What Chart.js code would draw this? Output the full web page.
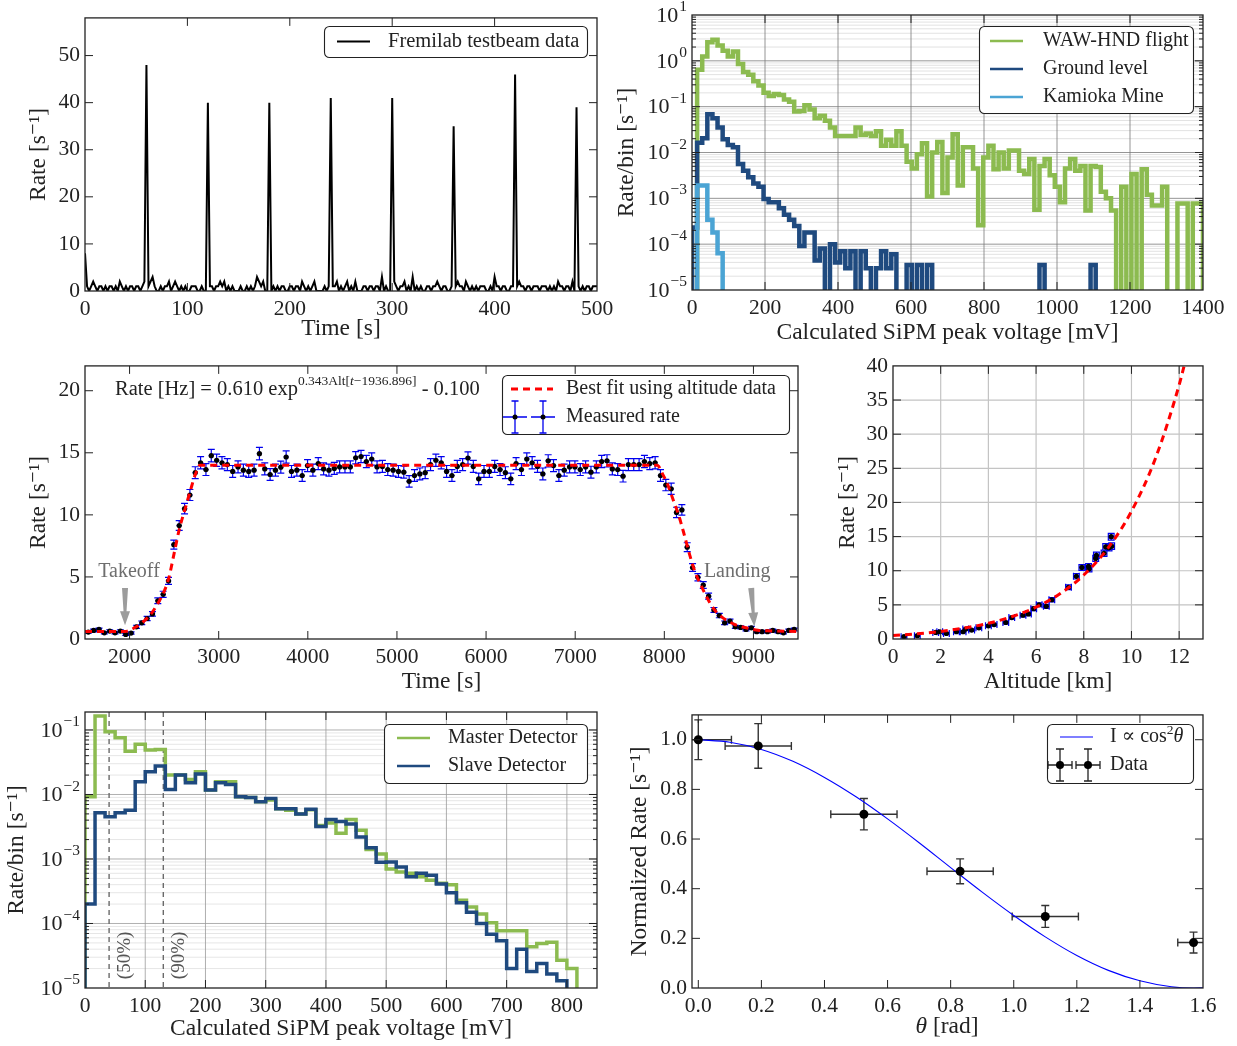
<!DOCTYPE html>
<html>
<head>
<meta charset="utf-8">
<script src="https://cdn.jsdelivr.net/npm/chart.js@4.4.0/dist/chart.umd.min.js"></script>
<style>
  html, body { margin: 0; padding: 0; background: #fff; }
  body { width: 1237px; height: 1046px; position: relative; overflow: hidden; }
  canvas { position: absolute; }
</style>
</head>
<body>
<script>
const FONT = "'Liberation Serif', 'DejaVu Serif', serif";
const INK = '#222';

// ---------- panel 1: Fermilab testbeam (2 s bins) ----------
const beamStep = 2;
const beamBackground = [
  8,1,0,1,2,1,0,1,1,0,1,0,1,1,0,1,0,2,1,0,1,0,1,1,0,
  1,1,0,1,2,0,1,2,3,1,0,0,1,0,1,1,2,0,1,2,1,0,1,0,1,
  0,0,1,1,1,0,0,1,0,0,1,1,1,0,1,1,2,1,2,0,1,0,1,0,0,
  0,1,0,0,1,0,1,0,1,3,2,1,2,0,0,1,0,1,0,1,0,1,1,0,0,
  1,1,0,1,1,0,2,1,0,1,0,1,2,0,0,0,0,1,0,1,0,1,1,2,0,
  1,0,1,2,0,1,0,2,0,0,0,1,1,0,1,1,0,1,1,0,3,0,1,0,0,
  0,2,1,0,1,1,2,0,1,0,3,0,1,0,1,0,0,1,1,0,1,1,2,1,0,
  1,1,0,0,1,0,1,2,1,1,0,2,1,0,1,0,1,0,1,1,1,0,0,1,0,
  3,1,1,0,1,1,0,0,1,1,0,1,2,1,1,0,1,1,0,1,1,1,0,1,1,
  1,0,1,0,1,0,2,1,1,0,1,1,0,2,0,0,1,0,1,0,1,1,0,1,1,
  1
];
const beamPeakTime = [60, 120, 180, 240, 300, 360, 420, 480];
const beamPeakRate = [48, 40, 40, 41, 41, 35, 46, 39];

// ---------- panel 2: SiPM spectra (14 mV bins) ----------
const spectrumBin = 14;
const wawRate = [
  0, 0.64, 1.25, 2.55, 2.87, 2.15, 1.65, 1.25, 1.6, 0.85, 0.57,
  0.5, 0.36, 0.29, 0.2, 0.17, 0.19, 0.18, 0.143, 0.128, 0.078,
  0.08, 0.108, 0.087, 0.056, 0.063, 0.049, 0.035, 0.023, 0.023, 0.023,
  0.023, 0.035, 0.024, 0.026, 0.023, 0.029, 0.014, 0.019, 0.014, 0.029,
  0.014, 0.0063, 0.0045, 0.0092, 0.016, 0.0011, 0.01, 0.017, 0.0013, 0.0078,
  0.025,
  0.0019, 0.013, 0.013, 0.0045, 0.00026, 0.0078, 0.014, 0.0043, 0.01, 0.0045,
  0.011, 0.011, 0.004, 0.0034, 0.0072, 0.00056, 0.0051, 0.0072, 0.0032, 0.0018,
  0.00082, 0.0045, 0.0072, 0.004, 0.0051, 0.00054, 0.0051, 0.0048, 0.0014, 0.001,
  0.00054, 0, 0.0018, 0, 0.0034, 0, 0.0043, 0.0012, 0.0007, 0.0007,
  0.0018, 0, 0, 0.00077, 0.00077, 0, 0.00077, 0.00077
];
const groundRate = [
  0.00023, 0.0164, 0.0205, 0.068, 0.056, 0.035, 0.0195, 0.0146, 0.013, 0.0056,
  0.004, 0.0029, 0.0021, 0.0018, 0.00097, 0.00082, 0.00082, 0.00061, 0.00044, 0.00034,
  0.00025, 0.000091, 0.00018, 0.00018, 0.000044, 0.00008, 0, 0.0001, 0.00004, 0.00007,
  0.00003, 0.00007, 0, 0.00007, 0.00003, 0, 0.00003, 0.00007, 0.00003, 0.00006,
  0, 0, 0.000035, 0, 0.000035, 0, 0.000035, 0, 0, 0,
  0, 0, 0, 0, 0, 0, 0, 0, 0, 0,
  0, 0, 0, 0, 0, 0, 0, 0, 0.000035, 0,
  0, 0, 0, 0, 0, 0, 0, 0, 0.000035
];
const kamiokaRate = [0, 0.0019, 0.0019, 0.00034, 0.00018, 0.000063];

// ---------- panel 3: rate during flight ----------
const flightT0 = 1537;
const flightStep = 60;
const flightRate = [
  0.56, 0.69, 0.77, 0.5, 0.64, 0.5, 0.64, 0.37, 0.48, 0.98,
  1.3, 1.65, 2.02, 3.08, 3.6, 4.68, 7.6, 9.14, 10.5, 11.6,
  13.4, 14.2, 13.65, 14.77, 14.4, 14.2, 14.05, 13.5, 13.86, 13.6,
  13.5, 13.6, 14.93, 13.7, 13.25, 13.6, 13.84, 14.66, 13.5, 13.6,
  13.17, 13.97, 13.6, 14.13, 13.7, 13.6, 13.74, 13.86, 13.86, 13.86,
  14.6, 14.7, 14.3, 14.5, 13.86, 13.9, 13.65, 13.6, 13.5, 13.44,
  12.7, 13.17, 13.3, 13.4, 14.05, 14.4,
  14.2, 13.5, 13.17, 13.9, 14.05, 14.58, 13.9, 12.9, 13.5, 13.5,
  13.9, 13.65, 13.4, 12.9, 14.13, 13.65, 14.5, 14.2, 13.9, 13.3,
  14.35, 13.97, 13.17, 13.6, 13.86, 13.86, 13.65, 13.86, 13.44, 13.86,
  14.3, 14.35, 13.7, 13.65, 13.12, 14.05, 14.05, 14.05, 14.3, 14.13,
  14.2, 13.17, 12.4, 12.1, 10.2, 10.4, 7.4, 5.76, 4.97, 4.35,
  3.45, 2.34, 1.89, 1.3, 1.44, 0.98, 0.93, 0.77, 0.9, 0.59,
  0.59, 0.59, 0.69, 0.59, 0.5, 0.69, 0.77
];
const flightTimeErr = 30;
const poissonScale = 0.13; // error bar = scale * sqrt(rate)
const fitTime = [1500, 1950, 2000, 2080, 2140, 2200, 2260, 2320, 2380, 2440,
  2500, 2560, 2620, 2680, 2740, 2790, 7920, 7980, 8040, 8100,
  8160, 8220, 8280, 8340, 8400, 8460, 8520, 8580, 8640, 8700,
  8780, 8860, 8950, 9050, 9200, 9500];
const fitRate = [0.6, 0.6, 0.7, 1.0, 1.3, 1.7, 2.2, 2.9, 3.7, 4.9,
  6.9, 8.9, 10.4, 11.9, 13.3, 14.0, 14.0, 13.3, 12.4, 11.2,
  10.0, 8.5, 6.9, 5.5, 4.5, 3.6, 2.8, 2.2, 1.8, 1.5,
  1.2, 1.0, 0.85, 0.7, 0.65, 0.6];

// ---------- panel 4: rate vs altitude ----------
const altKm = [0.46, 1.02, 1.79, 1.96, 2.24, 2.66, 2.94, 3.05, 3.3, 3.6, 4.0, 4.24, 4.73, 4.98, 5.45, 5.68,
  5.9, 6.13, 6.43, 6.66, 7.36, 7.69, 7.92, 8.2, 8.22, 8.5, 8.53, 8.85, 8.92, 9.06, 9.15, 9.17];
const altRate = [0.34, 0.48, 0.97, 1.06, 0.82, 1.06, 1.06, 1.45, 1.3, 1.64, 1.93, 2.12, 2.42, 3.14, 3.48, 3.67,
  4.44, 5.02, 4.78, 5.75, 7.58, 9.18, 10.48, 10.63, 10.24, 11.8, 12.27, 12.56, 13.48, 13.38, 14.98, 13.6];
const altErr = 0.12;
const altFitKm = [0, 1, 2, 3, 4, 5, 6, 7, 8, 9, 10, 11, 12, 12.2];
const altFitRate = [0.51, 0.76, 1.11, 1.61, 2.30, 3.29, 4.67, 6.62, 9.37, 13.25, 18.7, 26.4, 37.2, 39.9];

// ---------- panel 5: master / slave spectra ----------
const coinBin = 50 / 3;
const masterRate = [0.0092, 0.165, 0.094, 0.076, 0.047, 0.06, 0.049, 0.05, 0.02, 0.02,
  0.017, 0.0225, 0.0117, 0.0158, 0.0158, 0.0092, 0.009, 0.0077, 0.0082, 0.006,
  0.0057, 0.005, 0.0058, 0.0033, 0.0036, 0.0025, 0.0041, 0.0028, 0.0014, 0.0012,
  0.0007, 0.00063, 0.0006, 0.00053, 0.00047, 0.00042, 0.0004, 0.00023, 0.00018, 0.00014,
  0.000103, 0.000077, 0.000077, 0.000077, 0.0000435, 0.000049, 0.000051, 0.000027, 0.00002];
const slaveRate = [0.0002, 0.0052, 0.0045, 0.0052, 0.0057, 0.0158, 0.0225, 0.0276, 0.012, 0.02,
  0.0152, 0.0207, 0.0117, 0.0152, 0.0143, 0.0092, 0.009, 0.0077, 0.0087, 0.006,
  0.006, 0.005, 0.0059, 0.0032, 0.0041, 0.0038, 0.0035, 0.0022, 0.0015, 0.00089,
  0.0009, 0.00075, 0.00053, 0.0006, 0.00056, 0.00041, 0.0003, 0.00021, 0.00015, 0.0001,
  0.000068, 0.000054, 0.00002, 0.00004, 0.000018, 0.000024, 0.0000165, 0.000013];
const thresholdMv = [40, 130];
const thresholdLabel = ['(50%)', '(90%)'];

// ---------- panel 6: zenith angle ----------
const thetaRad = [0.0, 0.19, 0.525, 0.83, 1.1, 1.57];
const normRate = [1.0, 0.975, 0.70, 0.47, 0.288, 0.183];
const thetaErr = [0.105, 0.105, 0.105, 0.105, 0.105, 0.05];
const normRateErr = [0.08, 0.09, 0.063, 0.05, 0.044, 0.042];
const cosTheta = [0, 0.1, 0.2, 0.3, 0.4, 0.5, 0.6, 0.7, 0.8, 0.9, 1.0, 1.1, 1.2, 1.3, 1.4, 1.5, 1.5708, 1.6];
const cosRate = [1, 0.990, 0.961, 0.913, 0.848, 0.770, 0.681, 0.585, 0.485, 0.386, 0.292, 0.206, 0.131, 0.071, 0.029, 0.005, 0, 0.001];

// ---------- colours ----------
const GREEN = '#8cbb50';
const NAVY = '#1f4a7f';
const SKY = '#4ba4d4';

// ---------- helpers ----------
function steps(w, vals, floor) {
  const pts = [{x: 0, y: floor}];
  vals.forEach((v, i) => pts.push({x: i * w, y: v > 0 ? v : floor}));
  const last = vals[vals.length - 1];
  pts.push({x: vals.length * w, y: last > 0 ? last : floor});
  pts.push({x: vals.length * w, y: floor});
  return pts;
}

function linAxis(min, max, ticks, title, fmt) {
  return {
    type: 'linear', min: min, max: max,
    afterBuildTicks: s => { s.ticks = ticks.map(v => ({value: v})); },
    grid: {display: false, drawTicks: false},
    border: {display: false},
    ticks: {font: {family: FONT, size: 21.5}, color: INK, padding: 5, maxRotation: 0, autoSkip: false,
      callback: fmt || (v => String(v))},
    title: {display: !!title, text: title, font: {family: FONT, size: 23.5}, color: INK, padding: {top: 2, bottom: 2}}
  };
}

function logAxis(min, max, decades, title) {
  return {
    type: 'logarithmic', min: min, max: max,
    afterBuildTicks: s => { s.ticks = decades.map(e => ({value: Math.pow(10, e)})); },
    grid: {display: false, drawTicks: false},
    border: {display: false},
    ticks: {display: false},
    title: {display: true, text: title, font: {family: FONT, size: 23.5}, color: INK, padding: {top: 2, bottom: 2}}
  };
}

function minorLog(e0, e1, max) {
  const out = [];
  for (let e = e0; e <= e1; e++) for (let k = 2; k <= 9; k++) {
    const v = k * Math.pow(10, e);
    if (v < max) out.push(v);
  }
  return out;
}

function makePanel(box, m, cfg) {
  const c = document.createElement('canvas');
  const w = box[2] - box[0] + m[0] + m[2];
  const h = box[3] - box[1] + m[1] + m[3];
  c.width = w; c.height = h;
  c.style.left = (box[0] - m[0]) + 'px';
  c.style.top = (box[1] - m[1]) + 'px';
  c.style.width = w + 'px'; c.style.height = h + 'px';
  c._ox = box[0] - m[0]; c._oy = box[1] - m[1];
  document.body.appendChild(c);
  cfg.options.responsive = false;
  cfg.options.animation = false;
  cfg.options.events = [];
  cfg.options.layout = {padding: {left: 0, top: m[1], right: m[2], bottom: 0}};
  cfg.options.plugins = {legend: {display: false}, tooltip: {enabled: false}};
  cfg.options.scales.x.afterFit = s => { s.height = m[3]; };
  cfg.options.scales.y.afterFit = s => { s.width = m[0]; };
  return new Chart(c, cfg);
}

// page coords -> canvas coords
function P(ch, X, Y) { return [X - ch.canvas._ox, Y - ch.canvas._oy]; }

function drawGrid(ch, xs, ys, color, lw) {
  const {ctx, chartArea: a, scales: {x: sx, y: sy}} = ch;
  ctx.save(); ctx.strokeStyle = color; ctx.lineWidth = lw; ctx.beginPath();
  xs.forEach(v => { const p = sx.getPixelForValue(v); ctx.moveTo(p, a.top); ctx.lineTo(p, a.bottom); });
  ys.forEach(v => { const p = sy.getPixelForValue(v); ctx.moveTo(a.left, p); ctx.lineTo(a.right, p); });
  ctx.stroke(); ctx.restore();
}

function drawFrame(ch, f) {
  const {ctx, chartArea: a, scales: {x: sx, y: sy}} = ch;
  ctx.save(); ctx.strokeStyle = INK; ctx.lineWidth = 1; ctx.beginPath();
  const tx = (vals, len) => vals.forEach(v => {
    const p = sx.getPixelForValue(v);
    ctx.moveTo(p, a.bottom); ctx.lineTo(p, a.bottom - len);
    ctx.moveTo(p, a.top); ctx.lineTo(p, a.top + len);
  });
  const ty = (vals, len) => vals.forEach(v => {
    const p = sy.getPixelForValue(v);
    ctx.moveTo(a.left, p); ctx.lineTo(a.left + len, p);
    ctx.moveTo(a.right, p); ctx.lineTo(a.right - len, p);
  });
  tx(f.xMajor || [], 8); tx(f.xMinor || [], 4);
  ty(f.yMajor || [], 8); ty(f.yMinor || [], 4);
  ctx.stroke();
  ctx.lineWidth = 1.3;
  ctx.strokeRect(a.left, a.top, a.right - a.left, a.bottom - a.top);
  ctx.restore();
}

function drawLogLabels(ch, decades) {
  const {ctx, chartArea: a, scales: {y: sy}} = ch;
  ctx.save(); ctx.fillStyle = INK; ctx.textBaseline = 'middle'; ctx.textAlign = 'right';
  decades.forEach(e => {
    const y = sy.getPixelForValue(Math.pow(10, e));
    const sup = e < 0 ? '\u2212' + (-e) : String(e);
    ctx.font = '15.5px ' + FONT;
    const w = ctx.measureText(sup).width;
    const xr = a.left - 5;
    ctx.fillText(sup, xr, y - 8);
    ctx.font = '22px ' + FONT;
    ctx.fillText('10', xr - w - 1, y + 1);
  });
  ctx.restore();
}

function errBars(ch, xs, ys, xe, ye, color, lw, capY, capX) {
  const {ctx, chartArea: a, scales: {x: sx, y: sy}} = ch;
  ctx.save();
  ctx.beginPath(); ctx.rect(a.left, a.top, a.right - a.left, a.bottom - a.top); ctx.clip();
  ctx.strokeStyle = color; ctx.lineWidth = lw; ctx.beginPath();
  xs.forEach((x, i) => {
    const px = sx.getPixelForValue(x), py = sy.getPixelForValue(ys[i]);
    const l = sx.getPixelForValue(x - xe[i]), r = sx.getPixelForValue(x + xe[i]);
    ctx.moveTo(l, py); ctx.lineTo(r, py);
    if (capX) { ctx.moveTo(l, py - capX); ctx.lineTo(l, py + capX); ctx.moveTo(r, py - capX); ctx.lineTo(r, py + capX); }
    const t = sy.getPixelForValue(ys[i] + ye[i]), b = sy.getPixelForValue(ys[i] - ye[i]);
    ctx.moveTo(px, t); ctx.lineTo(px, b);
    ctx.moveTo(px - capY, t); ctx.lineTo(px + capY, t);
    ctx.moveTo(px - capY, b); ctx.lineTo(px + capY, b);
  });
  ctx.stroke(); ctx.restore();
}

function legendBox(ch, X, Y, w, h) {
  const [x, y] = P(ch, X, Y); const ctx = ch.ctx;
  ctx.save(); ctx.beginPath(); ctx.roundRect(x + 0.5, y + 0.5, w, h, 5);
  ctx.fillStyle = '#fff'; ctx.fill(); ctx.strokeStyle = INK; ctx.lineWidth = 1.1; ctx.stroke(); ctx.restore();
}
function legendLine(ch, X1, X2, Y, color, lw, dash) {
  const [x1, y] = P(ch, X1, Y); const [x2] = P(ch, X2, Y); const ctx = ch.ctx;
  ctx.save(); ctx.strokeStyle = color; ctx.lineWidth = lw; if (dash) ctx.setLineDash(dash);
  ctx.beginPath(); ctx.moveTo(x1, y); ctx.lineTo(x2, y); ctx.stroke(); ctx.restore();
}
function legendText(ch, X, Y, txt, size) {
  const [x, y] = P(ch, X, Y); const ctx = ch.ctx;
  ctx.save(); ctx.fillStyle = INK; ctx.font = (size || 20) + 'px ' + FONT;
  ctx.textBaseline = 'middle'; ctx.textAlign = 'left'; ctx.fillText(txt, x, y); ctx.restore();
  return x;
}
function legendCross(ch, X, Y, color, capY, capX, r) {
  const [x, y] = P(ch, X, Y); const ctx = ch.ctx;
  ctx.save(); ctx.strokeStyle = color; ctx.lineWidth = 1.3; ctx.beginPath();
  ctx.moveTo(x - 12, y); ctx.lineTo(x + 12, y);
  ctx.moveTo(x, y - 16); ctx.lineTo(x, y + 16);
  ctx.moveTo(x - capY, y - 16); ctx.lineTo(x + capY, y - 16);
  ctx.moveTo(x - capY, y + 16); ctx.lineTo(x + capY, y + 16);
  if (capX) { ctx.moveTo(x - 12, y - capX); ctx.lineTo(x - 12, y + capX); ctx.moveTo(x + 12, y - capX); ctx.lineTo(x + 12, y + capX); }
  ctx.stroke();
  ctx.fillStyle = '#000'; ctx.beginPath(); ctx.arc(x, y, r, 0, Math.PI * 2); ctx.fill();
  ctx.restore();
}

function arrowDown(ctx, x0, y0, x1, y1) {
  const dx = x1 - x0, dy = y1 - y0, len = Math.hypot(dx, dy);
  const ux = dx / len, uy = dy / len, nx = -uy, ny = ux;
  const hx = x1 - ux * 14, hy = y1 - uy * 14;
  ctx.save(); ctx.fillStyle = '#9c9c9c'; ctx.beginPath();
  ctx.moveTo(x0 + nx * 3, y0 + ny * 3);
  ctx.lineTo(hx + nx * 1.5, hy + ny * 1.5);
  ctx.lineTo(hx + nx * 5, hy + ny * 5);
  ctx.lineTo(x1, y1);
  ctx.lineTo(hx - nx * 5, hy - ny * 5);
  ctx.lineTo(hx - nx * 1.5, hy - ny * 1.5);
  ctx.lineTo(x0 - nx * 3, y0 - ny * 3);
  ctx.closePath(); ctx.fill(); ctx.restore();
}

Chart.defaults.font.family = FONT;

// ================= panel 1 =================
const beamPoints = beamBackground.map((v, i) => ({x: i * beamStep, y: v}));
beamPeakTime.forEach((t, k) => { beamPoints[t / beamStep].y = beamPeakRate[k]; });

makePanel([85, 15, 597, 291], [62, 15, 25, 54], {
  type: 'line',
  data: {datasets: [{data: beamPoints, borderColor: '#000', borderWidth: 2, pointRadius: 0, tension: 0}]},
  options: {
    scales: {
      x: linAxis(0, 500, [0, 100, 200, 300, 400, 500], 'Time [s]'),
      y: linAxis(0, 58, [0, 10, 20, 30, 40, 50], 'Rate [s\u207B\u00B9]')
    }
  },
  plugins: [{
    id: 'p1',
    afterDraw(ch) {
      drawFrame(ch, {xMajor: [100, 200, 300, 400], yMajor: [10, 20, 30, 40, 50]});
      legendBox(ch, 324, 26, 263, 31);
      legendLine(ch, 337, 370, 41.5, '#000', 2);
      legendText(ch, 388, 41.5, 'Fremilab testbeam data', 20.5);
    }
  }]
});

// ================= panel 2 =================
const FLOOR = 1e-7;
const decades2 = [-5, -4, -3, -2, -1, 0, 1];
makePanel([692, 15, 1203, 290], [81, 15, 30, 59], {
  type: 'line',
  data: {datasets: [
    {data: steps(spectrumBin, kamiokaRate, FLOOR), borderColor: SKY, borderWidth: 4.5, stepped: true, pointRadius: 0},
    {data: steps(spectrumBin, groundRate, FLOOR), borderColor: NAVY, borderWidth: 4.5, stepped: true, pointRadius: 0},
    {data: steps(spectrumBin, wawRate, FLOOR), borderColor: GREEN, borderWidth: 4.5, stepped: true, pointRadius: 0}
  ]},
  options: {
    scales: {
      x: linAxis(0, 1400, [0, 200, 400, 600, 800, 1000, 1200, 1400], 'Calculated SiPM peak voltage [mV]'),
      y: logAxis(1e-5, 10, decades2, 'Rate/bin [s\u207B\u00B9]')
    }
  },
  plugins: [{
    id: 'p2',
    beforeDatasetsDraw(ch) {
      drawGrid(ch, [], minorLog(-5, 0, 10), '#e2e2e2', 1);
      drawGrid(ch, [200, 400, 600, 800, 1000, 1200], [1e-4, 1e-3, 1e-2, 1e-1, 1], '#7a7a7a', 0.8);
    },
    afterDraw(ch) {
      drawFrame(ch, {xMajor: [200, 400, 600, 800, 1000, 1200], yMajor: [1e-4, 1e-3, 1e-2, 1e-1, 1], yMinor: minorLog(-5, 0, 10)});
      drawLogLabels(ch, decades2);
      legendBox(ch, 979, 26, 214, 87);
      legendLine(ch, 990, 1023, 41, GREEN, 2.5); legendText(ch, 1043, 41, 'WAW-HND flight');
      legendLine(ch, 990, 1023, 69, NAVY, 2.5); legendText(ch, 1043, 69, 'Ground level');
      legendLine(ch, 990, 1023, 97, SKY, 2.5); legendText(ch, 1043, 97, 'Kamioka Mine');
    }
  }]
});

// ================= panel 3 =================
const flightTime = flightRate.map((r, i) => flightT0 + i * flightStep);
const flightRateErr = flightRate.map(r => poissonScale * Math.sqrt(r));
makePanel([85, 363, 798, 639], [62, 15, 25, 59], {
  type: 'line',
  data: {datasets: [
    {data: fitTime.map((t, i) => ({x: t, y: fitRate[i]})), borderColor: '#ff0000', borderWidth: 3,
      borderDash: [7, 5], pointRadius: 0, cubicInterpolationMode: 'monotone'},
    {data: flightTime.map((t, i) => ({x: t, y: flightRate[i]})), showLine: false, pointRadius: 2.6,
      pointBackgroundColor: '#000', pointBorderWidth: 0}
  ]},
  options: {
    scales: {
      x: linAxis(1500, 9500, [2000, 3000, 4000, 5000, 6000, 7000, 8000, 9000], 'Time [s]'),
      y: linAxis(0, 22, [0, 5, 10, 15, 20], 'Rate [s\u207B\u00B9]')
    }
  },
  plugins: [{
    id: 'p3',
    beforeDatasetsDraw(ch) {
      errBars(ch, flightTime, flightRate, flightTime.map(() => flightTimeErr), flightRateErr, '#0000ee', 1.2, 3.5, 0);
    },
    afterDraw(ch) {
      const {ctx, scales: {x: sx, y: sy}} = ch;
      drawFrame(ch, {xMajor: [2000, 3000, 4000, 5000, 6000, 7000, 8000, 9000], yMajor: [5, 10, 15, 20]});
      // fit formula
      let [x, y] = P(ch, 115, 395);
      ctx.save(); ctx.fillStyle = INK; ctx.textBaseline = 'alphabetic';
      const part = (txt, size, dy, style) => {
        ctx.font = (style || '') + ' ' + size + 'px ' + FONT;
        ctx.fillText(txt, x, y + dy); x += ctx.measureText(txt).width;
      };
      part('Rate [Hz] = 0.610 exp', 20.5, 0);
      part('0.343Alt[', 13.5, -10); part('t', 13.5, -10, 'italic'); part('\u22121936.896]', 13.5, -10);
      part(' - 0.100', 20.5, 0);
      ctx.restore();
      // takeoff / landing
      ctx.save(); ctx.fillStyle = '#6e6e6e'; ctx.font = '20px ' + FONT; ctx.textAlign = 'center'; ctx.textBaseline = 'middle';
      ctx.fillText('Takeoff', sx.getPixelForValue(1994), sy.getPixelForValue(5.4));
      ctx.fillText('Landing', sx.getPixelForValue(8818), sy.getPixelForValue(5.4));
      ctx.restore();
      arrowDown(ctx, sx.getPixelForValue(1949), sy.getPixelForValue(4.1), sx.getPixelForValue(1949), sy.getPixelForValue(1.1));
      arrowDown(ctx, sx.getPixelForValue(8975), sy.getPixelForValue(4.1), sx.getPixelForValue(9010), sy.getPixelForValue(1.0));
      // legend
      legendBox(ch, 502, 375, 287, 59);
      legendLine(ch, 511, 553, 389, '#ff0000', 3, [7, 5]);
      legendText(ch, 566, 389, 'Best fit using altitude data');
      legendCross(ch, 515, 417, '#0000ee', 3.5, 0, 2.5);
      legendCross(ch, 543, 417, '#0000ee', 3.5, 0, 2.5);
      legendText(ch, 566, 417, 'Measured rate');
    }
  }]
});

// ================= panel 4 =================
makePanel([893, 363, 1203, 639], [61, 15, 25, 59], {
  type: 'line',
  data: {datasets: [
    {data: altFitKm.map((a, i) => ({x: a, y: altFitRate[i]})), borderColor: '#ff0000', borderWidth: 3,
      borderDash: [7, 5], pointRadius: 0, cubicInterpolationMode: 'monotone'},
    {data: altKm.map((a, i) => ({x: a, y: altRate[i]})), showLine: false, pointRadius: 2.6,
      pointBackgroundColor: '#000', pointBorderWidth: 0}
  ]},
  options: {
    scales: {
      x: linAxis(0, 13, [0, 2, 4, 6, 8, 10, 12], 'Altitude [km]'),
      y: linAxis(0, 40, [0, 5, 10, 15, 20, 25, 30, 35, 40], 'Rate [s\u207B\u00B9]')
    }
  },
  plugins: [{
    id: 'p4',
    beforeDatasetsDraw(ch) {
      drawGrid(ch, [2, 4, 6, 8, 10, 12], [5, 10, 15, 20, 25, 30, 35], '#c4c4c4', 1.2);
      errBars(ch, altKm, altRate, altKm.map(() => altErr), altRate.map(r => poissonScale * Math.sqrt(r)), '#0000ee', 1.2, 3.5, 3.5);
    },
    afterDraw(ch) {
      drawFrame(ch, {xMajor: [2, 4, 6, 8, 10, 12], yMajor: [5, 10, 15, 20, 25, 30, 35]});
    }
  }]
});

// ================= panel 5 =================
const decades5 = [-5, -4, -3, -2, -1];
makePanel([85, 712, 597, 988], [84, 15, 25, 57], {
  type: 'line',
  data: {datasets: [
    {data: steps(coinBin, slaveRate, FLOOR), borderColor: NAVY, borderWidth: 3.5, stepped: true, pointRadius: 0},
    {data: steps(coinBin, masterRate, FLOOR), borderColor: GREEN, borderWidth: 3.5, stepped: true, pointRadius: 0}
  ]},
  options: {
    scales: {
      x: linAxis(0, 850, [0, 100, 200, 300, 400, 500, 600, 700, 800], 'Calculated SiPM peak voltage [mV]'),
      y: logAxis(1e-5, 0.19, decades5, 'Rate/bin [s\u207B\u00B9]')
    }
  },
  plugins: [{
    id: 'p5',
    beforeDatasetsDraw(ch) {
      const {ctx, chartArea: a, scales: {x: sx, y: sy}} = ch;
      drawGrid(ch, [], minorLog(-5, -1, 0.19), '#e6e6e6', 1);
      drawGrid(ch, [100, 200, 300, 400, 500, 600, 700, 800], [1e-4, 1e-3, 1e-2, 1e-1], '#9a9a9a', 0.8);
      ctx.save(); ctx.strokeStyle = '#6a6a6a'; ctx.lineWidth = 1.4; ctx.setLineDash([5, 4]);
      thresholdMv.forEach(v => {
        const p = sx.getPixelForValue(v);
        ctx.beginPath(); ctx.moveTo(p, a.top); ctx.lineTo(p, a.bottom); ctx.stroke();
      });
      ctx.restore();
      ctx.save(); ctx.fillStyle = '#555'; ctx.font = '19px ' + FONT; ctx.textAlign = 'center'; ctx.textBaseline = 'middle';
      thresholdMv.forEach((v, i) => {
        ctx.save();
        ctx.translate(sx.getPixelForValue(v) + 16, sy.getPixelForValue(3.2e-5));
        ctx.rotate(-Math.PI / 2);
        ctx.fillText(thresholdLabel[i], 0, 0);
        ctx.restore();
      });
      ctx.restore();
    },
    afterDraw(ch) {
      drawFrame(ch, {xMajor: [100, 200, 300, 400, 500, 600, 700, 800], yMajor: [1e-4, 1e-3, 1e-2, 1e-1], yMinor: minorLog(-5, -1, 0.19)});
      drawLogLabels(ch, decades5);
      legendBox(ch, 384, 724, 203, 59);
      legendLine(ch, 397, 430, 738, GREEN, 2.5); legendText(ch, 448, 738, 'Master Detector');
      legendLine(ch, 397, 430, 766, NAVY, 2.5); legendText(ch, 448, 766, 'Slave Detector');
    }
  }]
});

// ================= panel 6 =================
makePanel([692, 712, 1203, 988], [68, 15, 25, 56], {
  type: 'line',
  data: {datasets: [
    {data: thetaRad.map((t, i) => ({x: t, y: normRate[i]})), showLine: false, pointRadius: 4.5,
      pointBackgroundColor: '#000', pointBorderWidth: 0},
    {data: cosTheta.map((t, i) => ({x: t, y: cosRate[i]})), borderColor: '#0000ff', borderWidth: 1.1,
      pointRadius: 0, cubicInterpolationMode: 'monotone'}
  ]},
  options: {
    scales: {
      x: linAxis(-0.02, 1.6, [0, 0.2, 0.4, 0.6, 0.8, 1.0, 1.2, 1.4, 1.6], '', v => v.toFixed(1)),
      y: linAxis(0, 1.1, [0, 0.2, 0.4, 0.6, 0.8, 1.0], 'Normalized Rate [s\u207B\u00B9]', v => v.toFixed(1))
    }
  },
  plugins: [{
    id: 'p6',
    beforeDatasetsDraw(ch) {
      errBars(ch, thetaRad, normRate, thetaErr, normRateErr, '#333', 1.4, 4, 4);
    },
    afterDraw(ch) {
      const ctx = ch.ctx;
      drawFrame(ch, {xMajor: [0, 0.2, 0.4, 0.6, 0.8, 1.0, 1.2, 1.4], yMajor: [0.2, 0.4, 0.6, 0.8, 1.0]});
      // x title with italic theta
      let [tx, ty] = P(ch, 947, 1027);
      ctx.save(); ctx.fillStyle = INK; ctx.textBaseline = 'middle';
      ctx.font = 'italic 23.5px ' + FONT; const w1 = ctx.measureText('\u03B8').width;
      ctx.font = '23.5px ' + FONT; const w2 = ctx.measureText(' [rad]').width;
      let x0 = tx - (w1 + w2) / 2;
      ctx.font = 'italic 23.5px ' + FONT; ctx.fillText('\u03B8', x0, ty);
      ctx.font = '23.5px ' + FONT; ctx.fillText(' [rad]', x0 + w1, ty);
      ctx.restore();
      legendBox(ch, 1047, 724, 146, 59);
      legendLine(ch, 1060, 1093, 737, '#0000ff', 1.2);
      let [x, y] = P(ch, 1110, 737);
      ctx.save(); ctx.fillStyle = INK; ctx.textBaseline = 'middle';
      const part = (txt, size, dy, style) => {
        ctx.font = (style || '') + ' ' + size + 'px ' + FONT;
        ctx.fillText(txt, x, y + dy); x += ctx.measureText(txt).width;
      };
      part('I \u221D cos', 20, 0); part('2', 13.5, -7); part('\u03B8', 20, 0, 'italic');
      ctx.restore();
      legendCross(ch, 1060, 765, '#222', 4, 4, 4);
      legendCross(ch, 1088, 765, '#222', 4, 4, 4);
      legendText(ch, 1110, 765, 'Data');
    }
  }]
});
</script>
</body>
</html>
